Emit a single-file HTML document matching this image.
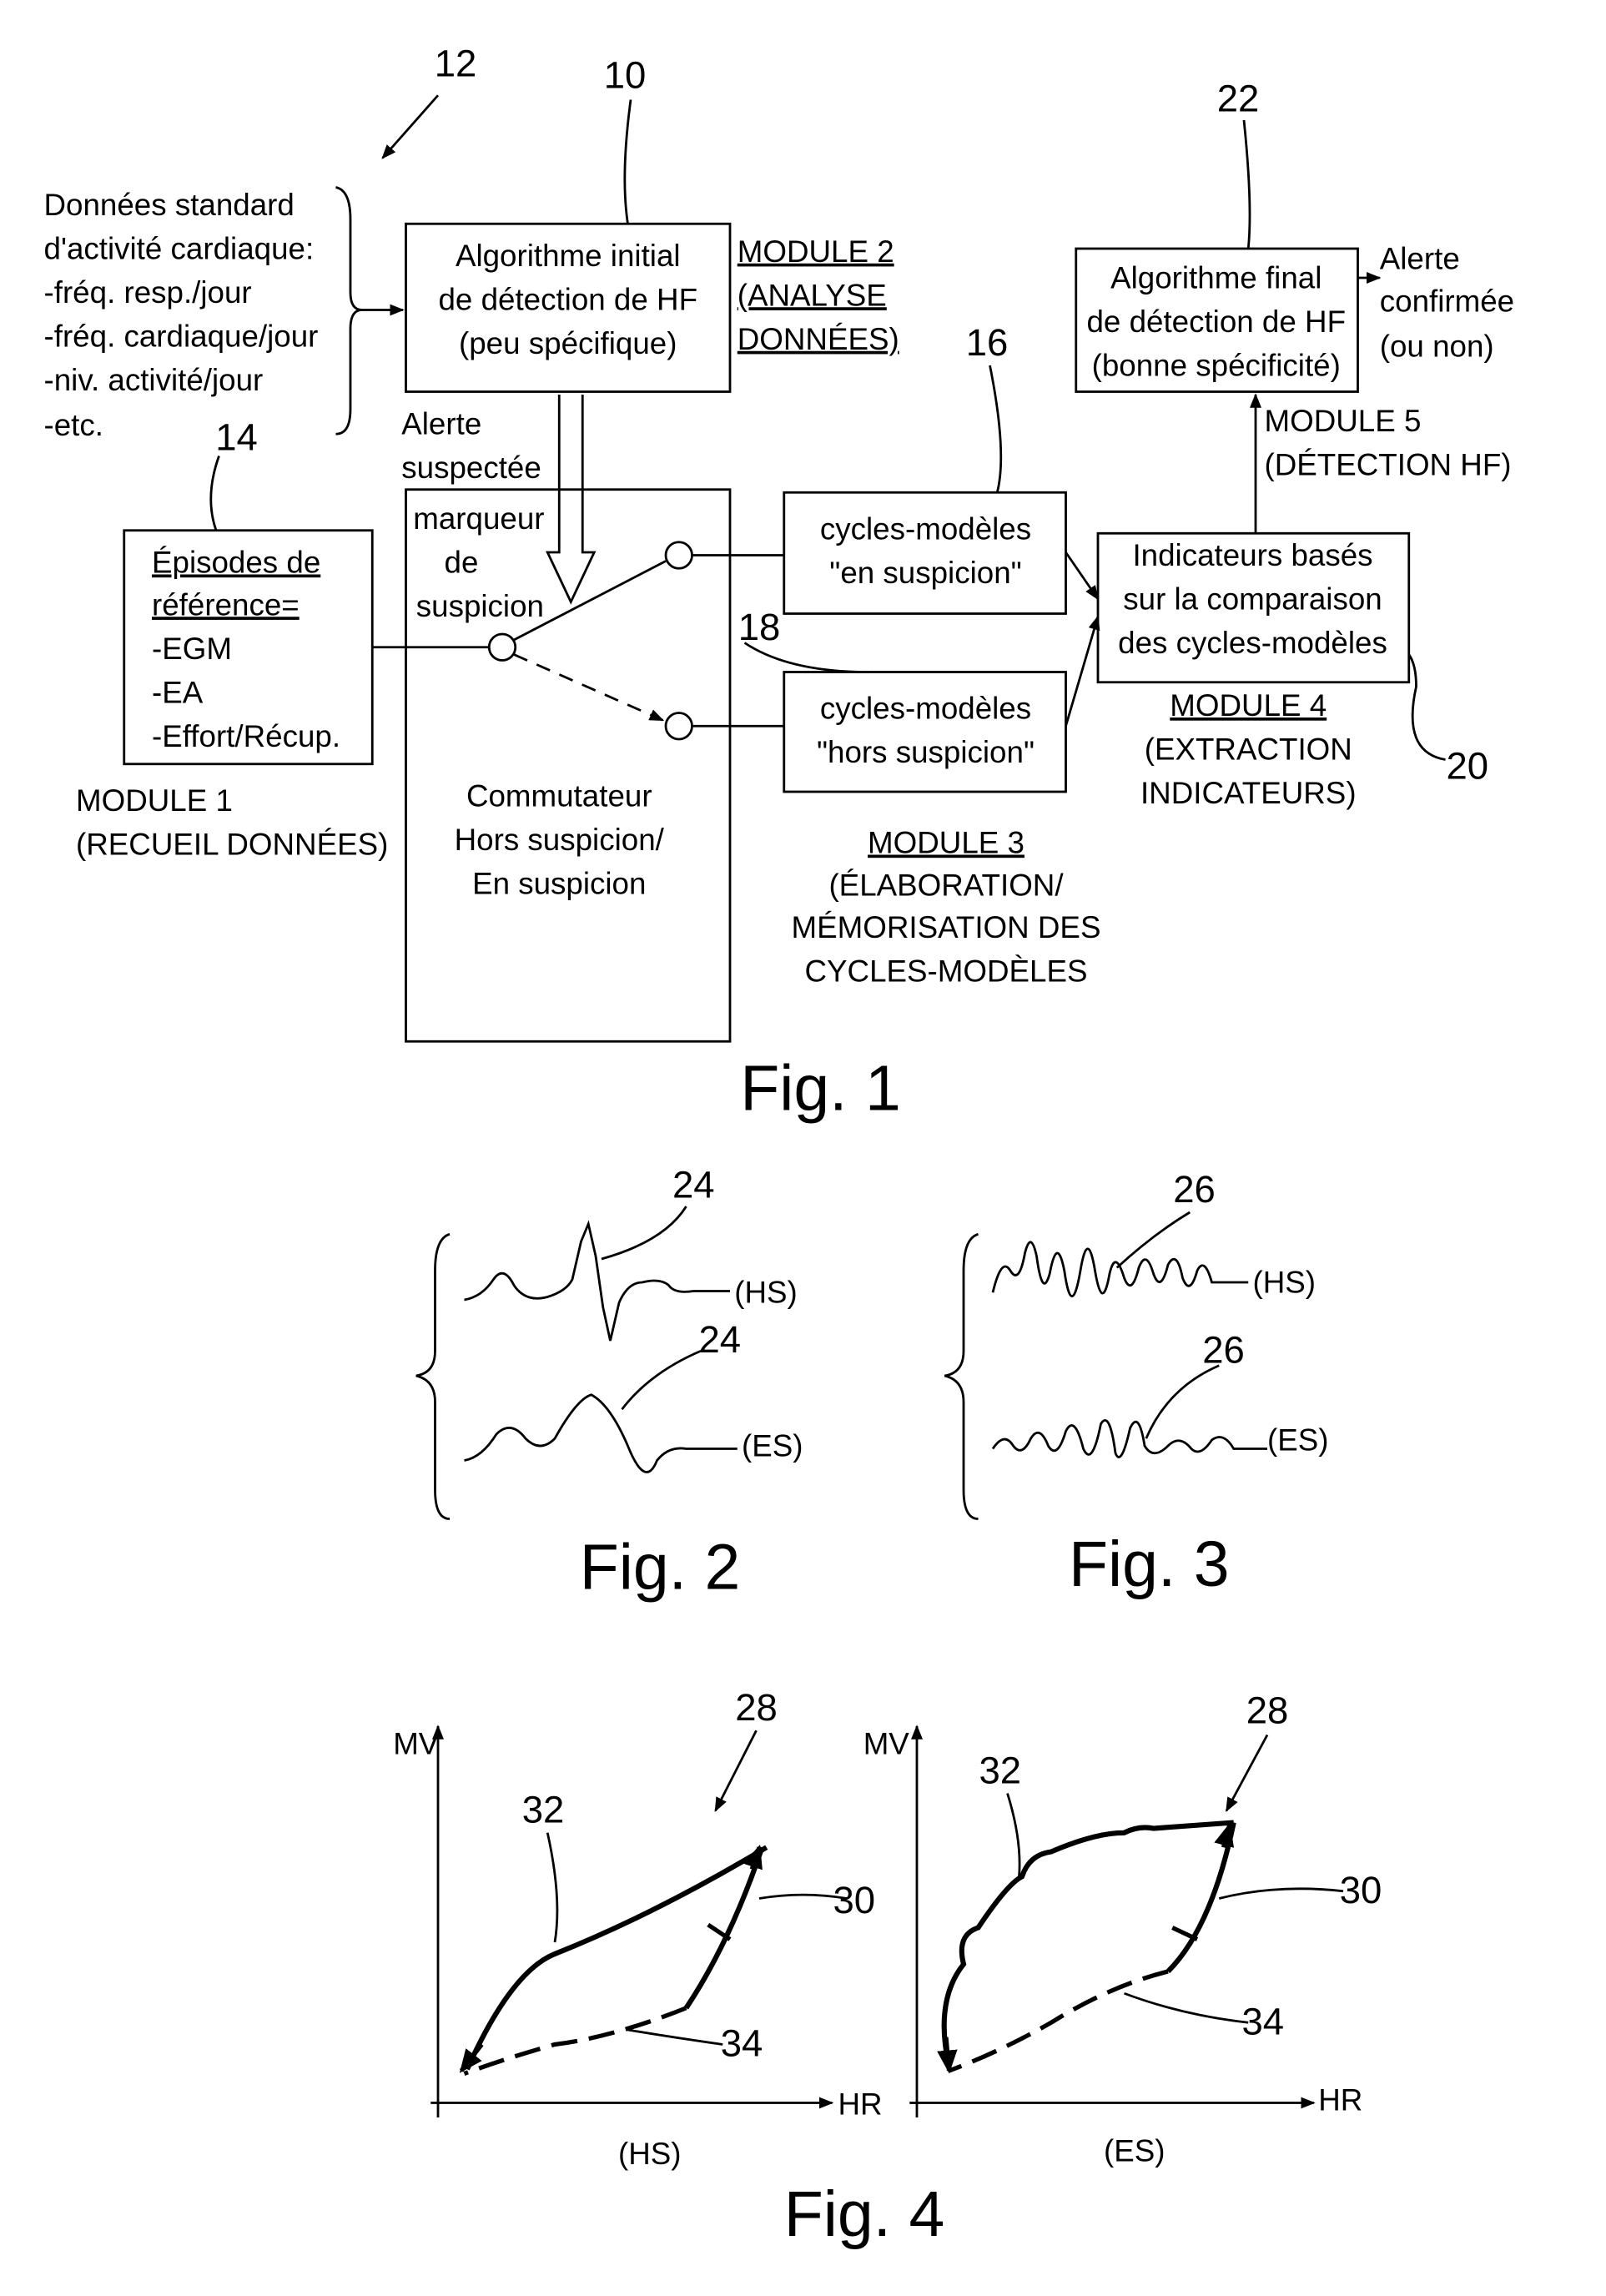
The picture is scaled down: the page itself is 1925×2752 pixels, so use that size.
<!DOCTYPE html>
<html><head><meta charset="utf-8"><style>
html,body{margin:0;padding:0;background:#fff}
svg{display:block}
text{font-family:"Liberation Sans",sans-serif;font-size:21px;fill:#000}
.c{text-anchor:middle}
.u{text-decoration:underline}
.big{font-size:44px}
</style></head><body>
<svg width="1925" height="2752" viewBox="0 0 1100 1572" xmlns="http://www.w3.org/2000/svg">
<defs>
<marker id="a" markerWidth="10" markerHeight="10" refX="9" refY="5" orient="auto" markerUnits="userSpaceOnUse"><path d="M0,1 L10,5 L0,9 z" fill="#000"/></marker>
<marker id="b" markerWidth="16" markerHeight="16" refX="14" refY="8" orient="auto" markerUnits="userSpaceOnUse"><path d="M0,1 L16,8 L0,15 z" fill="#000"/></marker>
</defs>
<g fill="none" stroke="#000" stroke-width="1.6">
<rect x="278" y="153" width="222" height="115"/>
<rect x="278" y="335" width="222" height="378"/>
<rect x="85" y="363" width="170" height="160"/>
<rect x="537" y="337" width="193" height="83"/>
<rect x="537" y="460" width="193" height="82"/>
<rect x="752" y="365" width="213" height="102"/>
<rect x="737" y="170" width="193" height="98"/>
<path d="M300,65 L262,108" marker-end="url(#a)"/>
<path d="M432,68 Q425,120 430,153"/>
<path d="M150,312 Q140,340 148,363"/>
<path d="M678,250 Q690,310 683,337"/>
<path d="M510,440 Q540,460 595,460"/>
<path d="M852,82 Q858,140 855,170"/>
<path d="M990,520 Q960,515 970,470 Q970,455 965,448"/>
<path d="M230,128 Q240,130 240,150 L240,200 Q240,212 248,212 Q240,212 240,225 L240,280 Q240,297 230,297"/>
<path d="M248,212 L276,212" marker-end="url(#a)"/>
<path d="M383,270 L383,378 L375,378 L391,412 L407,378 L399,378 L399,270"/>
<path d="M255,443 L335,443"/>
<circle cx="344" cy="443" r="9"/>
<path d="M352,438 L456,384"/>
<circle cx="465" cy="380" r="9"/>
<path d="M352,448 L454,493" stroke-dasharray="10,7" marker-end="url(#a)"/>
<circle cx="465" cy="497" r="9"/>
<path d="M474,380 L537,380"/>
<path d="M474,497 L537,497"/>
<path d="M730,378 L752,410" marker-end="url(#a)"/>
<path d="M730,497 L752,422" marker-end="url(#a)"/>
<path d="M860,365 L860,270" marker-end="url(#a)"/>
<path d="M930,190 L945,190" marker-end="url(#a)"/>
<path d="M308,845 Q298,848 298,870 L298,925 Q298,940 285,942 Q298,945 298,960 L298,1020 Q298,1040 308,1040"/>
<path d="M670,845 Q660,848 660,870 L660,925 Q660,940 647,942 Q660,945 660,960 L660,1020 Q660,1040 670,1040"/>
<path d="M318,890 Q330,888 338,876 Q345,866 352,880 Q360,892 375,888 Q388,884 392,876 L398,850 L403,838 L408,860 L413,895 L418,918 L424,892 Q430,878 440,878 Q452,875 458,880 Q462,886 475,884 L500,884"/>
<path d="M470,826 Q455,850 412,862"/>
<path d="M318,1000 Q330,998 340,982 Q350,972 360,985 Q370,995 380,985 Q395,958 405,955 Q418,962 430,990 Q442,1020 450,1000 Q458,990 470,992 L505,992"/>
<path d="M426,965 Q445,940 480,925"/>
<path d="M680,885 Q686,860 692,870 Q698,880 702,858 Q706,842 710,860 Q714,890 719,872 Q724,845 729,870 Q734,905 740,870 Q745,840 750,870 Q755,900 760,872 Q764,855 770,875 Q775,888 780,868 Q785,855 790,872 Q795,886 800,866 Q806,855 810,875 Q815,888 820,870 Q825,860 830,878 L855,878"/>
<path d="M765,868 Q790,845 815,830"/>
<path d="M680,992 Q688,980 694,990 Q700,998 706,985 Q712,975 718,990 Q724,1000 730,980 Q736,968 742,992 Q748,1005 754,975 Q760,965 764,995 Q768,1005 774,978 Q780,965 784,990 Q790,1000 800,990 Q808,982 816,992 Q822,998 830,986 Q838,980 845,992 L868,992"/>
<path d="M785,985 Q800,950 835,935"/>
<path d="M300,1450 L300,1182" marker-end="url(#a)"/>
<path d="M295,1440 L570,1440" marker-end="url(#a)"/>
<path d="M518,1185 L490,1240" marker-end="url(#a)"/>
<path d="M320,1417 Q350,1350 380,1338 Q450,1310 525,1265" stroke-width="3.5"/>
<path d="M330,1400 L316,1418" stroke-width="3" marker-end="url(#b)"/>
<path d="M522,1265 Q500,1330 470,1375" stroke-width="3.5"/>
<path d="M515,1280 L520,1265" stroke-width="3" marker-end="url(#b)"/>
<path d="M485,1318 L500,1328" stroke-width="3"/>
<path d="M470,1375 Q420,1395 380,1400 Q345,1410 318,1420" stroke-width="3" stroke-dasharray="18,8"/>
<path d="M375,1255 Q385,1300 380,1330"/>
<path d="M520,1300 Q550,1295 580,1300"/>
<path d="M430,1390 Q460,1395 495,1400"/>
<path d="M628,1450 L628,1182" marker-end="url(#a)"/>
<path d="M623,1440 L900,1440" marker-end="url(#a)"/>
<path d="M868,1188 L840,1240" marker-end="url(#a)"/>
<path d="M650,1415 Q640,1370 660,1345 Q655,1325 670,1320 Q690,1290 700,1285 Q705,1270 720,1268 Q750,1255 770,1255 Q780,1250 790,1252 L845,1248" stroke-width="3.5"/>
<path d="M648,1395 L650,1418" stroke-width="3" marker-end="url(#b)"/>
<path d="M845,1248 Q830,1320 800,1350" stroke-width="3.5"/>
<path d="M838,1265 L842,1250" stroke-width="3" marker-end="url(#b)"/>
<path d="M803,1320 L820,1328" stroke-width="3"/>
<path d="M800,1350 Q760,1360 720,1385 Q685,1405 650,1418" stroke-width="3" stroke-dasharray="18,8"/>
<path d="M690,1228 Q700,1260 698,1285"/>
<path d="M835,1300 Q875,1290 920,1295"/>
<path d="M770,1365 Q810,1380 855,1385"/>
</g>
<text x="312" y="52" class="c" style="font-size:26px">12</text>
<text x="428" y="60" class="c" style="font-size:26px">10</text>
<text x="389" y="182" class="c">Algorithme initial</text>
<text x="389" y="212" class="c">de détection de HF</text>
<text x="389" y="242" class="c">(peu spécifique)</text>
<text x="505" y="179" class="u">MODULE 2</text>
<text x="505" y="209" class="u">(ANALYSE</text>
<text x="505" y="239" class="u">DONNÉES)</text>
<text x="30" y="147">Données standard</text>
<text x="30" y="177">d'activité cardiaque:</text>
<text x="30" y="207">-fréq. resp./jour</text>
<text x="30" y="237">-fréq. cardiaque/jour</text>
<text x="30" y="267">-niv. activité/jour</text>
<text x="30" y="298">-etc.</text>
<text x="162" y="308" class="c" style="font-size:26px">14</text>
<text x="275" y="297">Alerte</text>
<text x="275" y="327">suspectée</text>
<text x="283" y="362">marqueur</text>
<text x="316" y="392" class="c">de</text>
<text x="285" y="422">suspicion</text>
<text x="104" y="392" class="u">Épisodes de</text>
<text x="104" y="421" class="u">référence=</text>
<text x="104" y="451">-EGM</text>
<text x="104" y="481">-EA</text>
<text x="104" y="511">-Effort/Récup.</text>
<text x="52" y="555">MODULE 1</text>
<text x="52" y="585">(RECUEIL DONNÉES)</text>
<text x="383" y="552" class="c">Commutateur</text>
<text x="383" y="582" class="c">Hors suspicion/</text>
<text x="383" y="612" class="c">En suspicion</text>
<text x="676" y="243" class="c" style="font-size:26px">16</text>
<text x="520" y="438" class="c" style="font-size:26px">18</text>
<text x="634" y="369" class="c">cycles-modèles</text>
<text x="634" y="399" class="c">"en suspicion"</text>
<text x="634" y="492" class="c">cycles-modèles</text>
<text x="634" y="522" class="c">"hors suspicion"</text>
<text x="648" y="584" class="c u">MODULE 3</text>
<text x="648" y="613" class="c">(ÉLABORATION/</text>
<text x="648" y="642" class="c">MÉMORISATION DES</text>
<text x="648" y="672" class="c">CYCLES-MODÈLES</text>
<text x="858" y="387" class="c">Indicateurs basés</text>
<text x="858" y="417" class="c">sur la comparaison</text>
<text x="858" y="447" class="c">des cycles-modèles</text>
<text x="855" y="490" class="c u">MODULE 4</text>
<text x="855" y="520" class="c">(EXTRACTION</text>
<text x="855" y="550" class="c">INDICATEURS)</text>
<text x="1005" y="533" class="c" style="font-size:26px">20</text>
<text x="848" y="76" class="c" style="font-size:26px">22</text>
<text x="833" y="197" class="c">Algorithme final</text>
<text x="833" y="227" class="c">de détection de HF</text>
<text x="833" y="257" class="c">(bonne spécificité)</text>
<text x="866" y="295">MODULE 5</text>
<text x="866" y="325">(DÉTECTION HF)</text>
<text x="945" y="184">Alerte</text>
<text x="945" y="213">confirmée</text>
<text x="945" y="244">(ou non)</text>
<text x="562" y="760" class="c big">Fig. 1</text>
<text x="475" y="820" class="c" style="font-size:26px">24</text>
<text x="493" y="926" class="c" style="font-size:26px">24</text>
<text x="503" y="892">(HS)</text>
<text x="508" y="997">(ES)</text>
<text x="452" y="1088" class="c big">Fig. 2</text>
<text x="818" y="823" class="c" style="font-size:26px">26</text>
<text x="838" y="933" class="c" style="font-size:26px">26</text>
<text x="858" y="885">(HS)</text>
<text x="868" y="993">(ES)</text>
<text x="787" y="1086" class="c big">Fig. 3</text>
<text x="285" y="1201" class="c">MV</text>
<text x="574" y="1448">HR</text>
<text x="445" y="1482" class="c">(HS)</text>
<text x="518" y="1178" class="c" style="font-size:26px">28</text>
<text x="372" y="1248" class="c" style="font-size:26px">32</text>
<text x="585" y="1310" class="c" style="font-size:26px">30</text>
<text x="508" y="1408" class="c" style="font-size:26px">34</text>
<text x="607" y="1201" class="c">MV</text>
<text x="903" y="1445">HR</text>
<text x="777" y="1480" class="c">(ES)</text>
<text x="868" y="1180" class="c" style="font-size:26px">28</text>
<text x="685" y="1221" class="c" style="font-size:26px">32</text>
<text x="932" y="1303" class="c" style="font-size:26px">30</text>
<text x="865" y="1393" class="c" style="font-size:26px">34</text>
<text x="592" y="1531" class="c big">Fig. 4</text>
</svg>
</body></html>
